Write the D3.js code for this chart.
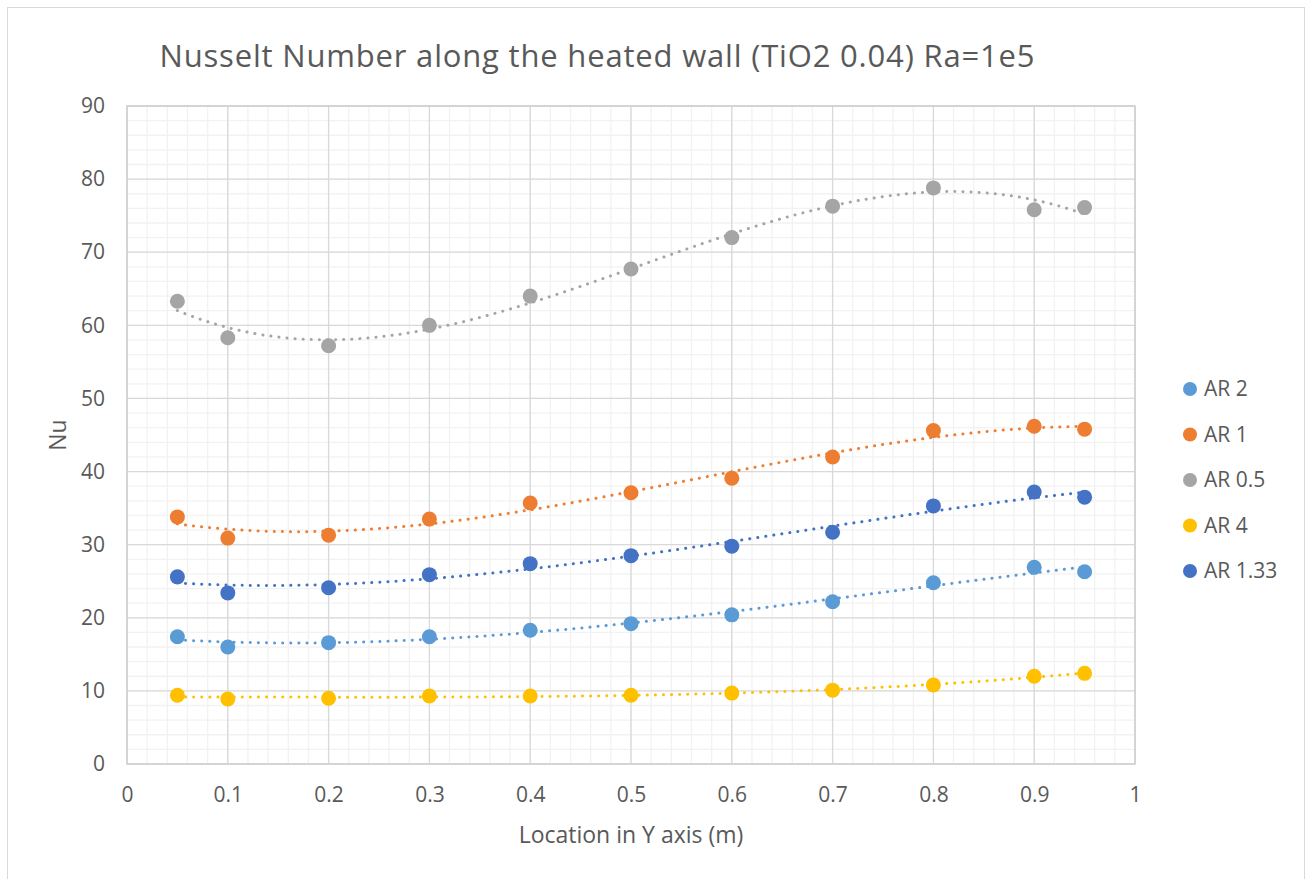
<!DOCTYPE html>
<html>
<head>
<meta charset="utf-8">
<script src="https://cdn.jsdelivr.net/npm/d3@7"></script>
<style>
  body { margin: 0; background: #fff; }
  svg { display: block; font-family: "Open Sans", sans-serif; }
</style>
</head>
<body>
<div id="chart"></div>
<script>
// data
var xValues = [0.05, 0.1, 0.2, 0.3, 0.4, 0.5, 0.6, 0.7, 0.8, 0.9, 0.95];
var seriesNames = ["AR 2", "AR 1", "AR 0.5", "AR 4", "AR 1.33"];
var seriesColors = ["#5b9bd5", "#ed7d31", "#a5a5a5", "#ffc000", "#4472c4"];
var ar2   = [17.4, 16.0, 16.6, 17.4, 18.3, 19.2, 20.4, 22.2, 24.8, 26.9, 26.3];
var ar1   = [33.8, 30.9, 31.3, 33.5, 35.7, 37.1, 39.1, 42.0, 45.6, 46.2, 45.8];
var ar05  = [63.3, 58.3, 57.2, 60.0, 64.0, 67.7, 72.0, 76.3, 78.8, 75.8, 76.1];
var ar4   = [9.4, 8.9, 9.0, 9.3, 9.3, 9.4, 9.7, 10.1, 10.8, 12.0, 12.4];
var ar133 = [25.6, 23.4, 24.1, 25.9, 27.4, 28.5, 29.8, 31.7, 35.3, 37.2, 36.5];
var seriesValues = [ar2, ar1, ar05, ar4, ar133];
var xTicks = [0, 0.1, 0.2, 0.3, 0.4, 0.5, 0.6, 0.7, 0.8, 0.9, 1];
var yTicks = [0, 10, 20, 30, 40, 50, 60, 70, 80, 90];

var width = 1309, height = 879;
var margin = {top: 106, right: 174, bottom: 115, left: 127};
var plotW = width - margin.left - margin.right;
var plotH = height - margin.top - margin.bottom;
var textColor = "#595959";

var svg = d3.select("#chart").append("svg")
    .attr("width", width)
    .attr("height", height);

// chart frame
svg.append("rect")
    .attr("x", 7.5).attr("y", 7.5)
    .attr("width", 1297).attr("height", 880)
    .attr("fill", "#fff")
    .attr("stroke", "#d9d9d9");

var x = d3.scaleLinear().domain([0, 1]).range([0, plotW]);
var y = d3.scaleLinear().domain([0, 90]).range([plotH, 0]);

var g = svg.append("g")
    .attr("transform", "translate(" + margin.left + "," + margin.top + ")");

// minor grid
g.append("g")
    .selectAll("line")
    .data(d3.range(0, 1.0001, 0.02))
    .enter().append("line")
    .attr("x1", function(d){ return x(d); })
    .attr("x2", function(d){ return x(d); })
    .attr("y1", 0).attr("y2", plotH)
    .attr("stroke", "#f2f2f2").attr("stroke-width", 1.3);
g.append("g")
    .selectAll("line")
    .data(d3.range(0, 90.001, 2))
    .enter().append("line")
    .attr("y1", function(d){ return y(d); })
    .attr("y2", function(d){ return y(d); })
    .attr("x1", 0).attr("x2", plotW)
    .attr("stroke", "#f2f2f2").attr("stroke-width", 1.3);

// major grid
g.append("g")
    .selectAll("line")
    .data(xTicks)
    .enter().append("line")
    .attr("x1", function(d){ return x(d); })
    .attr("x2", function(d){ return x(d); })
    .attr("y1", 0).attr("y2", plotH)
    .attr("stroke", "#d9d9d9").attr("stroke-width", 1.3);
g.append("g")
    .selectAll("line")
    .data(yTicks)
    .enter().append("line")
    .attr("y1", function(d){ return y(d); })
    .attr("y2", function(d){ return y(d); })
    .attr("x1", 0).attr("x2", plotW)
    .attr("stroke", "#d9d9d9").attr("stroke-width", 1.3);

// plot frame
g.append("rect")
    .attr("width", plotW).attr("height", plotH)
    .attr("fill", "none")
    .attr("stroke", "#d0d0d0").attr("stroke-width", 1.5);

// axes (labels only)
var xAxis = g.append("g")
    .attr("transform", "translate(0," + plotH + ")")
    .call(d3.axisBottom(x).tickValues(xTicks).tickSize(0).tickPadding(23)
        .tickFormat(function(d){ return d3.format("")(d); }));
var yAxis = g.append("g")
    .call(d3.axisLeft(y).tickValues(yTicks).tickSize(0).tickPadding(22));
[xAxis, yAxis].forEach(function(a){
    a.select(".domain").remove();
    a.selectAll("text")
        .attr("fill", textColor)
        .style("font-size", "21px")
        .style("font-family", "'Open Sans', sans-serif");
});

// polynomial trendline (least squares, order 3)
function polyFit(xs, ys, order) {
    var n = order + 1;
    var A = [], b = [];
    for (var i = 0; i < n; i++) {
        A.push([]);
        for (var j = 0; j < n; j++) {
            A[i].push(d3.sum(xs, function(v){ return Math.pow(v, i + j); }));
        }
        b.push(d3.sum(xs, function(v, k){ return Math.pow(v, i) * ys[k]; }));
    }
    for (var c = 0; c < n; c++) {
        var p = c;
        for (var r = c + 1; r < n; r++) if (Math.abs(A[r][c]) > Math.abs(A[p][c])) p = r;
        var t = A[c]; A[c] = A[p]; A[p] = t;
        t = b[c]; b[c] = b[p]; b[p] = t;
        for (var r2 = c + 1; r2 < n; r2++) {
            var f = A[r2][c] / A[c][c];
            for (var k = c; k < n; k++) A[r2][k] -= f * A[c][k];
            b[r2] -= f * b[c];
        }
    }
    var coef = new Array(n);
    for (var r3 = n - 1; r3 >= 0; r3--) {
        var s = b[r3];
        for (var k2 = r3 + 1; k2 < n; k2++) s -= A[r3][k2] * coef[k2];
        coef[r3] = s / A[r3][r3];
    }
    return function(v) {
        return d3.sum(coef, function(cf, i){ return cf * Math.pow(v, i); });
    };
}

var line = d3.line()
    .x(function(d){ return x(d[0]); })
    .y(function(d){ return y(d[1]); });

// markers
seriesValues.forEach(function(vals, si) {
    g.append("g")
        .selectAll("circle")
        .data(vals)
        .enter().append("circle")
        .attr("cx", function(d, i){ return x(xValues[i]); })
        .attr("cy", function(d){ return y(d); })
        .attr("r", 7.5)
        .attr("fill", seriesColors[si]);
});

// trendlines on top
seriesValues.forEach(function(vals, si) {
    var fit = polyFit(xValues, vals, 3);
    var x0 = d3.min(xValues), x1 = d3.max(xValues);
    var pts = d3.range(0, 201).map(function(i){
        var xv = x0 + (x1 - x0) * i / 200;
        return [xv, fit(xv)];
    });
    g.append("path")
        .datum(pts)
        .attr("d", line)
        .attr("fill", "none")
        .attr("stroke", seriesColors[si])
        .attr("stroke-width", 3)
        .attr("stroke-linecap", "round")
        .attr("stroke-dasharray", "0.1 8");
});

// title
svg.append("text")
    .attr("x", 597).attr("y", 67)
    .attr("text-anchor", "middle")
    .attr("fill", textColor)
    .attr("textLength", 875)
    .attr("lengthAdjust", "spacing")
    .style("font-size", "31px")
    .text("Nusselt Number along the heated wall (TiO2 0.04) Ra=1e5");

// axis titles
svg.append("text")
    .attr("x", margin.left + plotW / 2).attr("y", 843)
    .attr("text-anchor", "middle")
    .attr("fill", textColor)
    .style("font-size", "23px")
    .text("Location in Y axis (m)");
svg.append("text")
    .attr("transform", "translate(66," + (margin.top + plotH / 2) + ") rotate(-90)")
    .attr("text-anchor", "middle")
    .attr("fill", textColor)
    .style("font-size", "23px")
    .text("Nu");

// legend
var legend = svg.append("g")
    .attr("transform", "translate(1190,389)");
var items = legend.selectAll("g")
    .data(seriesNames)
    .enter().append("g")
    .attr("transform", function(d, i){ return "translate(0," + (i * 45.5) + ")"; });
items.append("circle")
    .attr("r", 7)
    .attr("fill", function(d, i){ return seriesColors[i]; });
items.append("text")
    .attr("x", 14).attr("dy", "0.35em")
    .attr("fill", textColor)
    .style("font-size", "21px")
    .text(function(d){ return d; });
</script>
</body>
</html>
